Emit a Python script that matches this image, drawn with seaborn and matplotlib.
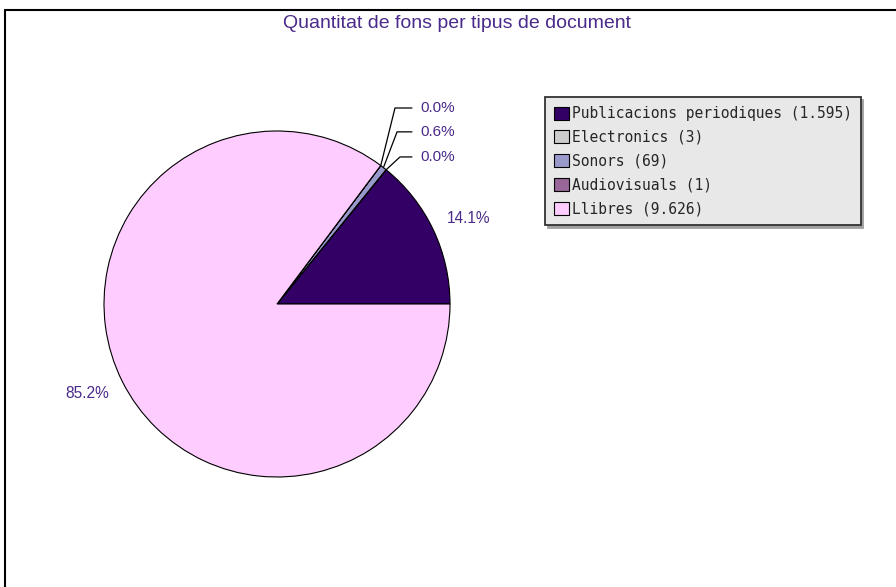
import matplotlib
matplotlib.use('Agg')
import matplotlib.pyplot as plt
from matplotlib.lines import Line2D
from matplotlib.patches import Patch
import numpy as np
import seaborn as sns

# 数据
categories = ['Publicacions periodiques', 'Electronics', 'Sonors', 'Audiovisuals', 'Llibres']
counts = [1595, 3, 69, 1, 9626]
count_labels = ['1.595', '3', '69', '1', '9.626']
colors = ['#330066', '#cccccc', '#9999cc', '#996699', '#ffccff']

sns.set_theme(style='white')
plt.rcParams['font.family'] = ['Liberation Sans', 'DejaVu Sans']

text_color = '#4a2a8a'

fig = plt.figure(figsize=(8.96, 5.87), dpi=100)
fig.patch.set_facecolor('white')

# 饼图区域（半径约173像素，圆心约在(277,304)）
ax = fig.add_axes([104 / 896, (587 - 477) / 587, 346 / 896, 346 / 587])
wedges, _ = ax.pie(counts, colors=colors, startangle=0, counterclock=True,
                   radius=1, wedgeprops=dict(edgecolor='black', linewidth=0.8))
ax.set_xlim(-1, 1)
ax.set_ylim(-1, 1)
ax.set_aspect('equal')
ax.axis('off')

total = sum(counts)
pcts = [c / total * 100 for c in counts]

# 大扇区的百分比标签
for i in (0, 4):
    w = wedges[i]
    mid = np.deg2rad((w.theta1 + w.theta2) / 2 - 1.4)
    ax.text(1.21 * np.cos(mid), 1.21 * np.sin(mid), f'{pcts[i]:.1f}%',
            ha='center', va='center', color=text_color, fontsize=11.2)

# 小扇区标签，带引线
small = [(3, 1.133, 0.682), (2, 0.995, 0.694), (1, 0.85, 0.711)]
for i, ty, cx in small:
    w = wedges[i]
    mid = np.deg2rad((w.theta1 + w.theta2) / 2)
    ex, ey = np.cos(mid), np.sin(mid)
    ax.plot([ex, cx, 0.78], [ey, ty, ty], color='black', linewidth=0.9, clip_on=False)
    ax.text(0.827, ty, f'{pcts[i]:.1f}%', ha='left', va='center',
            color=text_color, fontsize=11)

# 标题
fig.text(457 / 896, 1 - 24 / 587, 'Quantitat de fons per tipus de document',
         ha='center', va='center', color=text_color, fontsize=14)

# 图例
handles = [Patch(facecolor=c, edgecolor='black', linewidth=0.8) for c in colors]
labels = [f'{n} ({v})' for n, v in zip(categories, count_labels)]
leg = fig.legend(handles, labels, loc='upper left',
                 bbox_to_anchor=(545 / 896, 1 - 97 / 587), borderaxespad=0,
                 prop={'family': 'DejaVu Sans Mono', 'size': 10.5},
                 handlelength=1.0, handleheight=1.0, handletextpad=0.2,
                 labelspacing=0.6, borderpad=0.62, fancybox=False,
                 shadow={'color': '#a0a0a0', 'alpha': 1.0}, framealpha=1.0,
                 facecolor='#e8e8e8', edgecolor='#333333')
leg.get_frame().set_linewidth(1.3)

# 边框线（上、左）
fig.add_artist(Line2D([4.5 / 896, 1], [1 - 9.5 / 587, 1 - 9.5 / 587],
                      transform=fig.transFigure, color='black', linewidth=1.5))
fig.add_artist(Line2D([4.5 / 896, 4.5 / 896], [0, 1 - 9.5 / 587],
                      transform=fig.transFigure, color='black', linewidth=1.5))

fig.savefig('out.png', dpi=100)
